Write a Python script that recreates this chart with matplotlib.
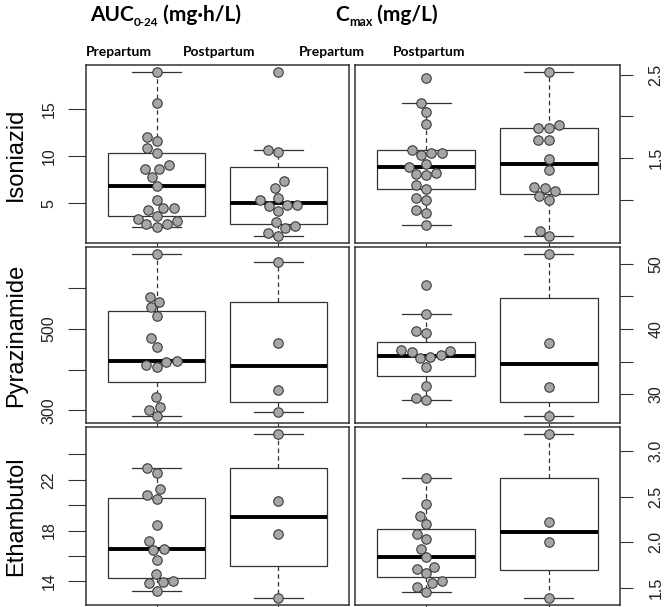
"""Prepartum vs postpartum TB drug exposure: box plots with swarm points."""
import matplotlib
matplotlib.use("Agg")
import matplotlib.pyplot as plt
import numpy as np

W, H = 666, 607

DRUGS = ["Isoniazid", "Pyrazinamide", "Ethambutol"]
GROUPS = ["Prepartum", "Postpartum"]

# ---------- data --------------------------------------------------------
INH_AUC_PRE = [19.0, 15.7, 12.1, 11.64, 10.87, 10.4, 9.13, 8.71, 8.64, 7.86, 6.87,
               5.35, 4.54, 4.47, 4.26, 3.62, 3.40, 3.12, 2.84, 2.77, 2.48]
INH_AUC_POST = [19.0, 10.69, 10.5, 7.37, 6.67, 5.6, 5.32, 4.86, 4.86, 4.75, 4.22,
                3.06, 2.63, 2.39, 1.86, 1.5]
INH_CMAX_PRE = [2.46, 2.158, 2.05, 1.907, 1.596, 1.556, 1.556, 1.532, 1.423, 1.396,
                1.323, 1.302, 1.290, 1.169, 1.129, 1.02, 1.0, 0.879, 0.839, 0.698]
INH_CMAX_POST = [2.54, 1.895, 1.867, 1.855, 1.717, 1.717, 1.484, 1.354, 1.154, 1.142,
                 1.100, 1.04, 1.0, 0.617, 0.556]
PZA_AUC_PRE = [684, 578.7, 566.5, 552.7, 531.6, 477, 454.6, 419.7, 418.1, 410.8,
               406.7, 333.7, 309.4, 301.3, 285]
PZA_AUC_POST = [663.8, 465, 350, 294.8]
PZA_CMAX_PRE = [46.75, 42.25, 39.74, 39.44, 36.78, 36.67, 36.52, 36.0, 35.75, 35.5,
                34.2, 31.25, 29.45, 29.1]
PZA_CMAX_POST = [51.6, 37.9, 31.15, 26.55]
EMB_AUC_PRE = [22.95, 22.56, 21.29, 20.77, 20.5, 18.47, 17.21, 16.55, 16.47, 15.68,
               14.57, 14.0, 13.92, 13.86, 13.26]
EMB_AUC_POST = [25.64, 20.29, 17.74, 12.65]
EMB_CMAX_PRE = [2.708, 2.423, 2.29, 2.197, 2.088, 2.03, 1.93, 1.832, 1.73, 1.704,
                1.657, 1.573, 1.547, 1.504, 1.449]
EMB_CMAX_POST = [3.19, 2.22, 2.0, 1.383]

# box summaries as drawn: whisker low, Q1, median, Q3, whisker high
INH_AUC_BOX = [[2.48, 3.62, 6.87, 10.4, 19.0], [1.5, 2.84, 5.04, 8.82, 10.69]]
INH_CMAX_BOX = [[0.698, 1.129, 1.391, 1.593, 2.158], [0.556, 1.069, 1.423, 1.855, 2.54]]
PZA_AUC_BOX = [[285, 370.2, 420.5, 543, 684], [294.8, 321.6, 408, 565, 663.8]]
PZA_CMAX_BOX = [[29.1, 32.7, 35.86, 38.05, 42.25], [26.55, 28.75, 34.6, 44.8, 51.6]]
EMB_AUC_BOX = [[13.26, 14.28, 16.55, 20.6, 22.95], [12.65, 15.2, 19.05, 22.95, 25.64]]
EMB_CMAX_BOX = [[1.449, 1.617, 1.832, 2.142, 2.708], [1.383, 1.69, 2.11, 2.70, 3.19]]

INH_AUC_TICKS = [5, 10, 15]
INH_AUC_LABELS = ["5", "10", "15"]
INH_CMAX_TICKS = [1.0, 1.5, 2.0, 2.5]
INH_CMAX_LABELS = ["", "1.5", "", "2.5"]
PZA_AUC_TICKS = [300, 400, 500, 600]
PZA_AUC_LABELS = ["300", "", "500", ""]
PZA_CMAX_TICKS = [30, 35, 40, 45, 50]
PZA_CMAX_LABELS = ["30", "", "40", "", "50"]
EMB_AUC_TICKS = [14, 16, 18, 20, 22, 24]
EMB_AUC_LABELS = ["14", "", "18", "", "22", ""]
EMB_CMAX_TICKS = [1.5, 2.0, 2.5, 3.0]
EMB_CMAX_LABELS = ["1.5", "2.0", "2.5", "3.0"]

# ---------- layout (pixels) ---------------------------------------------
COLS = [(86, 349), (355, 620)]
ROWS = [(65, 243), (247, 423), (427, 605)]
LABEL_X = [49, 656]           # centre of rotated tick labels, px
XLIM = (0.42, 2.58)
MS = 6.8                      # marker size, pt
SPACING = 10.5                # swarm spacing, px
EDGE = "#333333"
TICKFONT = "Liberation Sans"
HEADFONT = "Lato"


def swarm(vals, px_per_unit, diam):
    """Beeswarm-style x offsets (px); points placed lowest first."""
    ys = np.asarray(vals, float) * px_per_unit
    off = np.zeros(len(ys))
    done = []
    for i in np.argsort(ys, kind="stable"):
        y = ys[i]
        cands = [0.0]
        for j in done:
            dy = abs(y - ys[j])
            if dy < diam:
                dx = np.sqrt(diam ** 2 - dy ** 2)
                cands += [off[j] - dx, off[j] + dx]
        ok = [c for c in cands
              if all((c - off[j]) ** 2 + (y - ys[j]) ** 2 >= diam ** 2 - 1e-6 for j in done)]
        off[i] = min(ok, key=abs)
        done.append(i)
    return off


def draw_panel(ax, pre, post, boxes, ticks, labels, col):
    allv = list(pre) + list(post) + [v for b in boxes for v in b]
    lo, hi = min(allv), max(allv)
    pad = 0.04 * (hi - lo)
    ax.set_ylim(lo - pad, hi + pad)
    ax.set_xlim(*XLIM)

    stats = [dict(whislo=b[0], q1=b[1], med=b[2], q3=b[3], whishi=b[4], fliers=[])
             for b in boxes]
    ax.bxp(stats, positions=[1, 2], widths=0.8, capwidths=0.4, showfliers=False,
           patch_artist=True,
           boxprops=dict(facecolor="white", edgecolor=EDGE, lw=0.9),
           whiskerprops=dict(color=EDGE, lw=0.9, linestyle=(0, (3.6, 2.6))),
           capprops=dict(color=EDGE, lw=0.9),
           medianprops=dict(color="black", lw=2.8, solid_capstyle="butt"))

    bb = ax.get_position()
    ypx = bb.height * H / (hi + pad - (lo - pad))
    xpx = bb.width * W / (XLIM[1] - XLIM[0])
    for pos, vals in zip([1, 2], [pre, post]):
        dx = swarm(vals, ypx, SPACING)
        ax.plot(pos + dx / xpx, vals, "o", ms=MS, mfc="#A6A6A6", mec="#3a3a3a",
                mew=0.8, ls="none", zorder=4, clip_on=False)

    ax.set_xticks([1, 2])
    ax.set_xticklabels([])
    ax.tick_params(axis="x", direction="out", length=4, width=0.8, color=EDGE)
    ax.set_yticks(ticks)
    ax.set_yticklabels([])
    if col == 1:
        ax.yaxis.tick_right()
        ax.tick_params(axis="y", length=9.5, width=0.8, color=EDGE)
    else:
        ax.tick_params(axis="y", length=13, width=0.8, color=EDGE)

    # rotated tick labels placed at a fixed pixel column
    x0, x1 = COLS[col]
    xa = (LABEL_X[col] - x0) / (x1 - x0)
    for v, s in zip(ticks, labels):
        ax.text(xa, v, s, transform=ax.get_yaxis_transform(), rotation=90,
                ha="center", va="center", fontfamily=TICKFONT, fontsize=11.5,
                color="#222222", clip_on=False)

    for s in ax.spines.values():
        s.set_color(EDGE)
        s.set_linewidth(1.1)


def piece_text(fig, x_px, base_px, parts):
    """Write bold text pieces left to right; parts = (text, size, drop_px)."""
    r = fig.canvas.get_renderer()
    x = x_px
    for s, size, drop in parts:
        t = fig.text(x / W, 1 - (base_px + drop) / H, s, fontsize=size,
                     fontweight="bold", fontfamily=HEADFONT, ha="left", va="baseline")
        x += t.get_window_extent(renderer=r).width


def main():
    fig = plt.figure(figsize=(W / 100, H / 100), dpi=100)

    panels = [
        (INH_AUC_PRE, INH_AUC_POST, INH_AUC_BOX, INH_AUC_TICKS, INH_AUC_LABELS),
        (INH_CMAX_PRE, INH_CMAX_POST, INH_CMAX_BOX, INH_CMAX_TICKS, INH_CMAX_LABELS),
        (PZA_AUC_PRE, PZA_AUC_POST, PZA_AUC_BOX, PZA_AUC_TICKS, PZA_AUC_LABELS),
        (PZA_CMAX_PRE, PZA_CMAX_POST, PZA_CMAX_BOX, PZA_CMAX_TICKS, PZA_CMAX_LABELS),
        (EMB_AUC_PRE, EMB_AUC_POST, EMB_AUC_BOX, EMB_AUC_TICKS, EMB_AUC_LABELS),
        (EMB_CMAX_PRE, EMB_CMAX_POST, EMB_CMAX_BOX, EMB_CMAX_TICKS, EMB_CMAX_LABELS),
    ]
    for k, (pre, post, boxes, ticks, labels) in enumerate(panels):
        r, c = divmod(k, 2)
        (x0, x1), (y0, y1) = COLS[c], ROWS[r]
        ax = fig.add_axes([x0 / W, 1 - y1 / H, (x1 - x0) / W, (y1 - y0) / H])
        draw_panel(ax, pre, post, boxes, ticks, labels, c)

    for drug, (y0, y1) in zip(DRUGS, ROWS):
        fig.text(16 / W, 1 - (y0 + y1) / 2 / H, drug, rotation=90, ha="center",
                 va="center", fontfamily=TICKFONT, fontsize=17)

    # column headers
    piece_text(fig, 90, 21, [("AUC", 15, 0), ("0-24", 8.5, 5), (" (mg\u00b7h/L)", 15, 0)])
    piece_text(fig, 335, 21, [("C", 15, 0), ("max", 9, 5), (" (mg/L)", 15, 0)])
    for xc, g in zip([119, 219, 332, 429], GROUPS * 2):
        fig.text(xc / W, 1 - 56 / H, g, ha="center", va="baseline",
                 fontfamily=HEADFONT, fontweight="bold", fontsize=10)

    fig.savefig("out.png", dpi=100)
    plt.close(fig)


if __name__ == "__main__":
    main()
